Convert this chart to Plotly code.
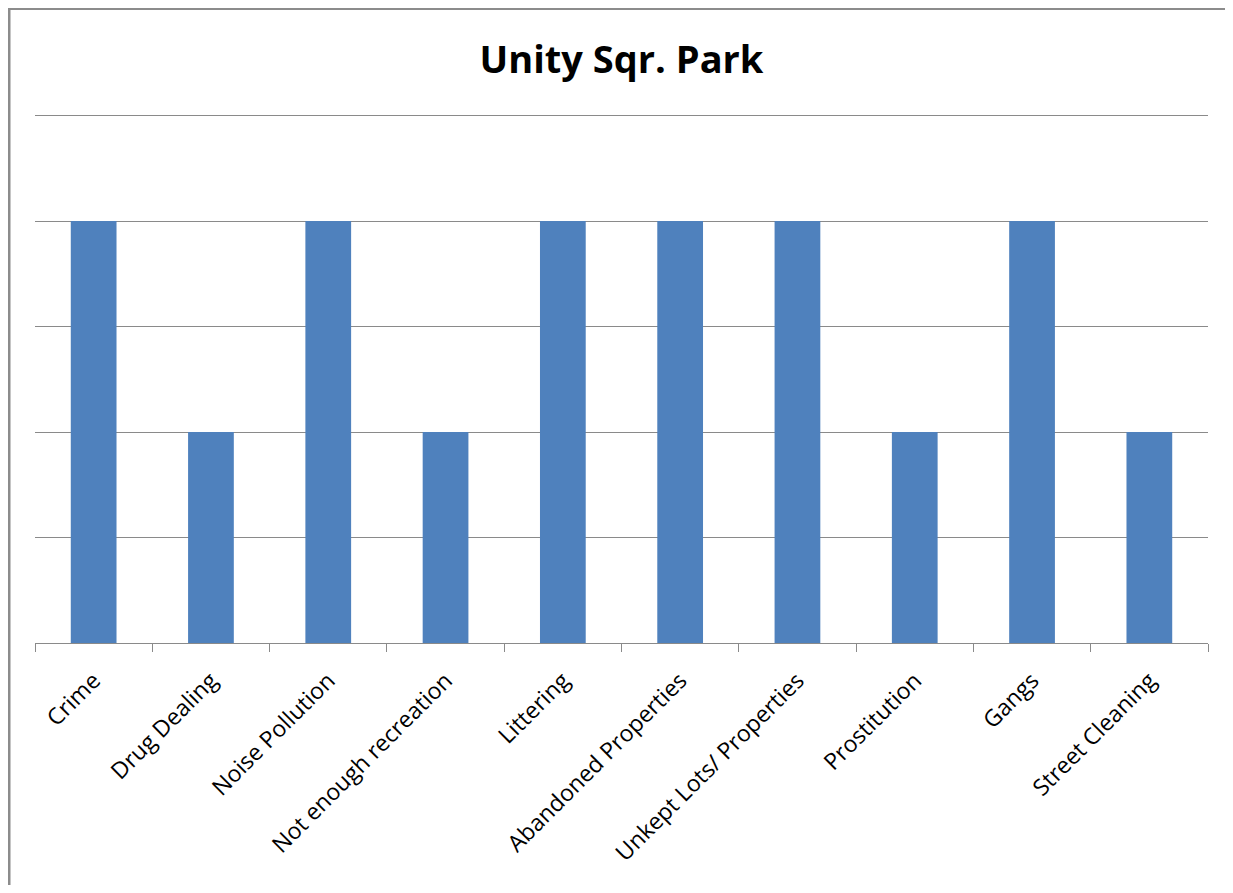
import plotly.graph_objects as go

categories = ["Crime", "Drug Dealing", "Noise Pollution", "Not enough recreation",
              "Littering", "Abandoned Properties", "Unkept Lots/ Properties",
              "Prostitution", "Gangs", "Street Cleaning"]
values = [4, 2, 4, 2, 4, 4, 4, 2, 4, 2]
title_text = "Unity Sqr. Park"

OFF = 8  # page body margin
W, H = 1217, 877
YMAX = 5.1
# target page pixels: plot x 35..1208, y(0)=643, y(5)=116
L = 35 - OFF
R = W - (1208 - OFF)
unit = (643 - 116) / 5.0
top_page = 643 - unit * YMAX
T = top_page - OFF
B = H - (643 - OFF)
pw = W - L - R
ph = H - T - B

def px_x(px):
    return (px - OFF - L) / pw

def px_y(py):
    return (643 - py) / ph

fig = go.Figure(go.Bar(x=categories, y=values, marker=dict(color="#4F81BD", line=dict(width=0))))

fig.update_layout(
    width=W, height=H,
    margin=dict(l=L, r=R, t=T, b=B, pad=0),
    plot_bgcolor="white", paper_bgcolor="white",
    bargap=0.61,
    showlegend=False,
    title=dict(text="<b>" + title_text + "</b>", x=0.5, xref="paper", xanchor="center",
               y=1 - (60 - OFF) / H, yanchor="middle",
               font=dict(family="Open Sans", size=38, color="black")),
    font=dict(family="Open Sans", color="black"),
)
fig.update_xaxes(showline=True, linecolor="#8a8a8a", linewidth=1,
                 ticks="outside", ticklen=8, tickcolor="#8a8a8a", tickson="boundaries",
                 tickangle=-45, tickfont=dict(size=23, family="Open Sans", color="black"),
                 ticklabelstandoff=14, showgrid=False)
fig.update_yaxes(range=[0, YMAX], dtick=1, showticklabels=False, showgrid=True,
                 gridcolor="#8a8a8a", gridwidth=1, zeroline=False, showline=False)

# chart frame: top and left edges (right and bottom are cropped in the reference)
fig.add_shape(type="line", xref="paper", yref="paper",
              x0=px_x(8), x1=px_x(1300), y0=px_y(9), y1=px_y(9),
              line=dict(color="#8c8c8c", width=3), layer="above")
fig.add_shape(type="line", xref="paper", yref="paper",
              x0=px_x(9), x1=px_x(9), y0=px_y(8), y1=px_y(950),
              line=dict(color="#8c8c8c", width=3), layer="above")

fig.write_html("out.html")
